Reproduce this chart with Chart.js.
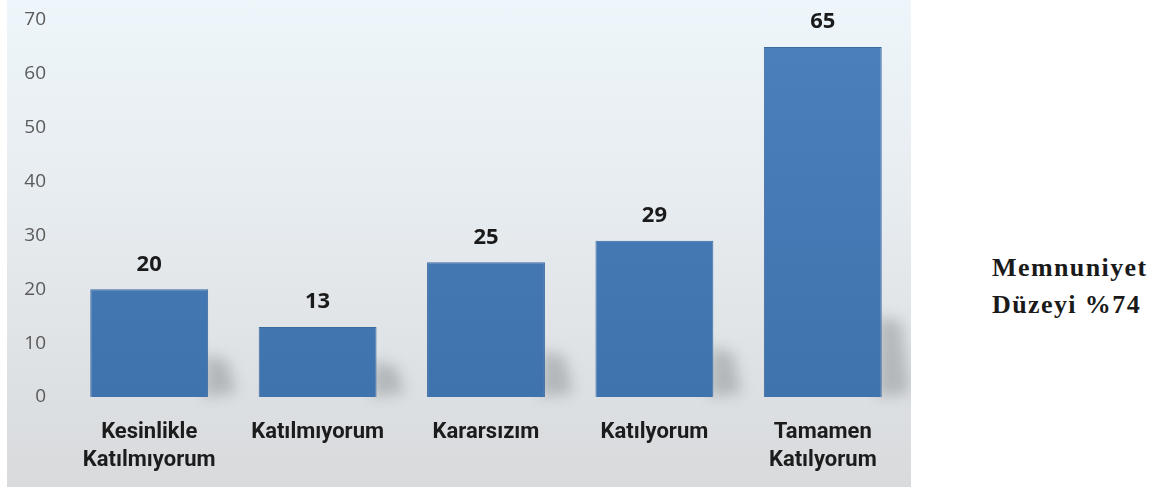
<!DOCTYPE html>
<html lang="tr">
<head>
    <meta charset="UTF-8">
    <script src="https://cdn.jsdelivr.net/npm/chart.js"></script>
    <title>Memnuniyet</title>
    <style>
        body {
            margin: 0;
            background: #ffffff;
            width: 1159px;
            height: 491px;
            overflow: hidden;
            position: relative;
        }

        #box {
            position: absolute;
            left: 7px;
            top: 0;
            width: 904px;
            height: 487px;
            background: linear-gradient(#eef6fb 0%, #e6ebef 45%, #d8dadc 100%);
        }

        #note {
            position: absolute;
            left: 992px;
            top: 249px;
            font-family: "Liberation Serif", serif;
            font-weight: bold;
            font-size: 26px;
            letter-spacing: 1.4px;
            line-height: 37px;
            color: #1a1a1a;
        }
    </style>
</head>
<body>
<div id="box"><canvas id="myChart"></canvas></div>
<div id="note">Memnuniyet<br>Düzeyi %74</div>
<script>
    const categories = [
        ['Kesinlikle', 'Katılmıyorum'],
        ['Katılmıyorum'],
        ['Kararsızım'],
        ['Katılyorum'],
        ['Tamamen', 'Katılyorum']
    ];
    const counts = [20, 13, 25, 29, 65];
    const yTicks = [0, 10, 20, 30, 40, 50, 60, 70];

    // soft shadow behind the lower right of every bar
    const barShadow = {
        id: 'barShadow',
        beforeDatasetsDraw(chart) {
            const ctx = chart.ctx;
            const bottom = chart.chartArea.bottom;
            ctx.save();
            ctx.filter = 'blur(7px)';
            ctx.fillStyle = 'rgba(90, 95, 100, 0.32)';
            chart.getDatasetMeta(0).data.forEach(bar => {
                const right = bar.x + bar.width / 2;
                const h = Math.min(bottom - bar.y, 25 + (bottom - bar.y) * 0.16);
                ctx.beginPath();
                ctx.moveTo(right - 4, bottom);
                ctx.lineTo(right - 4, bottom - h);
                ctx.lineTo(right + 20, bottom - h + 6);
                ctx.lineTo(right + 28, bottom - 4);
                ctx.closePath();
                ctx.fill();
            });
            ctx.restore();
        }
    };

    // value above each bar
    const valueLabels = {
        id: 'valueLabels',
        afterDatasetsDraw(chart) {
            const ctx = chart.ctx;
            ctx.save();
            ctx.font = 'bold 22px "Open Sans"';
            ctx.fillStyle = '#1a1a1a';
            ctx.textAlign = 'center';
            ctx.textBaseline = 'middle';
            chart.getDatasetMeta(0).data.forEach((bar, i) => {
                ctx.fillText(counts[i], bar.x, bar.y - 25);
            });
            ctx.restore();
        }
    };

    function barFill(context) {
        const chart = context.chart;
        const area = chart.chartArea;
        if (!area) return '#4679b6';
        const g = chart.ctx.createLinearGradient(0, area.top, 0, area.bottom);
        g.addColorStop(0, '#4b80bd');
        g.addColorStop(1, '#3f73ae');
        return g;
    }

    new Chart(document.getElementById('myChart'), {
        type: 'bar',
        data: {
            labels: categories,
            datasets: [{
                data: counts,
                backgroundColor: barFill,
                borderColor: '#3b6a9f',
                borderWidth: 1,
                categoryPercentage: 1,
                barPercentage: 0.70
            }]
        },
        options: {
            responsive: true,
            maintainAspectRatio: false,
            animation: false,
            layout: {
                padding: {top: 20, right: 4, left: 0, bottom: 0}
            },
            plugins: {
                legend: {display: false},
                tooltip: {enabled: false}
            },
            scales: {
                x: {
                    grid: {display: false, drawTicks: false},
                    border: {display: false},
                    ticks: {
                        autoSkip: false,
                        maxRotation: 0,
                        padding: 21,
                        color: '#1c1c1c',
                        font: {family: 'Roboto', weight: 'bold', size: 22, lineHeight: 1.3}
                    },
                    afterFit(scale) {
                        scale.height = 90;
                    }
                },
                y: {
                    min: 0,
                    max: 70,
                    grid: {display: false, drawTicks: false},
                    border: {display: false},
                    afterBuildTicks(scale) {
                        scale.ticks = yTicks.map(v => ({value: v}));
                    },
                    ticks: {
                        padding: 19,
                        color: '#5a5a5a',
                        // tiny line height so the label padding doesn't push the plot down
                        font: {family: 'Open Sans', size: 19, lineHeight: 0.1}
                    },
                    afterFit(scale) {
                        scale.width = 58;
                    }
                }
            }
        },
        plugins: [barShadow, valueLabels]
    });
</script>
</body>
</html>
